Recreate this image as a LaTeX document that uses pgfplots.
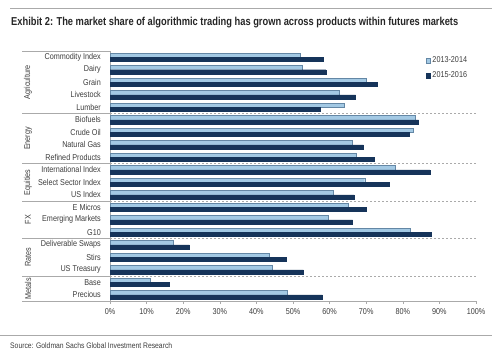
\documentclass[border=0pt]{standalone}
\usepackage{pgfplots}
\pgfplotsset{compat=1.18}
\usepackage{pgfplotstable}
\usepackage{fontspec}
\setmainfont{Liberation Sans}[FakeStretch=0.85]
\newfontfamily\titlefont{Liberation Sans}[FakeStretch=0.81]
\definecolor{lightbar}{RGB}{163,201,228}
\definecolor{lightedge}{RGB}{100,135,165}
\definecolor{darkbar}{RGB}{22,52,90}
\definecolor{axgrey}{RGB}{170,170,170}
\definecolor{txt}{RGB}{60,60,60}

\pgfplotstableread{
y a b
19 51.9 58.3
18 52.4 59.0
17 69.9 72.9
16 62.5 67.1
15 64.1 57.5
14 83.5 84.3
13 82.8 81.7
12 66.1 69.2
11 67.4 72.1
10 78.0 87.4
9 69.6 76.3
8 60.9 66.7
7 65.2 69.9
6 59.7 66.3
5 81.9 87.7
4 17.3 21.7
3 43.5 48.1
2 44.4 52.8
1 10.9 16.2
0 48.5 58.0
}\data

\begin{document}
\begin{tikzpicture}
\path[use as bounding box] (0pt,0pt) rectangle (500pt,354pt);
\draw[axgrey, line width=0.7pt] (10pt,346pt) -- (492pt,346pt);
\node[anchor=base west, font=\titlefont\bfseries\fontsize{11.5}{13}\selectfont, text=black!85, inner sep=0pt] at (11pt,328pt) {Exhibit 2: The market share of algorithmic trading has grown across products within futures markets};
\draw[axgrey, line width=0.6pt] (0pt,18.5pt) -- (492pt,18.5pt);
\node[anchor=base west, font=\fontsize{8}{9}\selectfont, text=txt, inner sep=0pt] at (10pt,6pt) {Source: Goldman Sachs Global Investment Research};
\begin{axis}[
  at={(110pt,53pt)}, anchor=south west,
  width=366pt, height=250pt, scale only axis,
  xbar, bar width=4.2pt,
  xmin=0, xmax=100, ymin=-0.5, ymax=19.5,
  clip=false,
  axis x line*=bottom, axis y line*=left,
  axis line style={axgrey, line width=0.6pt},
  xtick={0,10,...,100},
  xticklabels={0\%,10\%,20\%,30\%,40\%,50\%,60\%,70\%,80\%,90\%,100\%},
  ytick={0,...,19},
  yticklabels={Precious,Base,US Treasury,Stirs,Deliverable Swaps,G10,Emerging Markets,E Micros,US Index,Select Sector Index,International Index,Refined Products,Natural Gas,Crude Oil,Biofuels,Lumber,Livestock,Grain,Dairy,Commodity Index},
  tick label style={font=\fontsize{8.5}{10}\selectfont, text=txt},
  x tick style={axgrey, line width=0.6pt},
  tick align=outside, major tick length=3pt,
  y tick style={draw=none},
  yticklabel style={inner sep=1pt, xshift=-5pt},
  xticklabel style={yshift=-1pt},
  legend style={at={(0.862,0.985)}, anchor=north west, draw=none, fill=none,
    font=\fontsize{8.5}{10}\selectfont, text=txt, row sep=3.5pt, inner sep=0pt},
  legend cell align=left,
  legend image code/.code={\draw[#1] (0pt,-2.2pt) rectangle (4.4pt,2.2pt);},
]
\addplot[fill=lightbar, draw=lightedge, line width=0.4pt, bar shift=2.1pt] table[x=a, y=y] {\data};
\addlegendentry{2013-2014}
\addplot[fill=darkbar, draw=darkbar, line width=0.4pt, bar shift=-2.1pt] table[x=b, y=y] {\data};
\addlegendentry{2015-2016}

\pgfplotsinvokeforeach{14.5,10.5,7.5,4.5,1.5}{
  \draw[axgrey, line width=0.5pt, dash pattern=on 2pt off 2pt] (axis cs:0,#1) -- (axis cs:100,#1);
  \draw[axgrey, line width=0.6pt] (axis cs:0,#1) -- ++(-88pt,0pt);
}
\draw[axgrey, line width=0.6pt] (axis cs:0,19.5) -- ++(-88pt,0pt);
\draw[axgrey, line width=0.6pt] (axis cs:0,-0.5) -- ++(-88pt,0pt);
\node[rotate=90, font=\fontsize{8.5}{10}\selectfont, text=txt] at ([xshift=-82pt]axis cs:0,17) {Agriculture};
\node[rotate=90, font=\fontsize{8.5}{10}\selectfont, text=txt] at ([xshift=-82pt]axis cs:0,12.5) {Energy};
\node[rotate=90, font=\fontsize{8.5}{10}\selectfont, text=txt] at ([xshift=-82pt]axis cs:0,9) {Equities};
\node[rotate=90, font=\fontsize{8.5}{10}\selectfont, text=txt] at ([xshift=-82pt]axis cs:0,6) {FX};
\node[rotate=90, font=\fontsize{8.5}{10}\selectfont, text=txt] at ([xshift=-82pt]axis cs:0,3) {Rates};
\node[rotate=90, font=\fontsize{8.5}{10}\selectfont, text=txt] at ([xshift=-82pt]axis cs:0,0.5) {Metals};
\end{axis}
\end{tikzpicture}
\end{document}
